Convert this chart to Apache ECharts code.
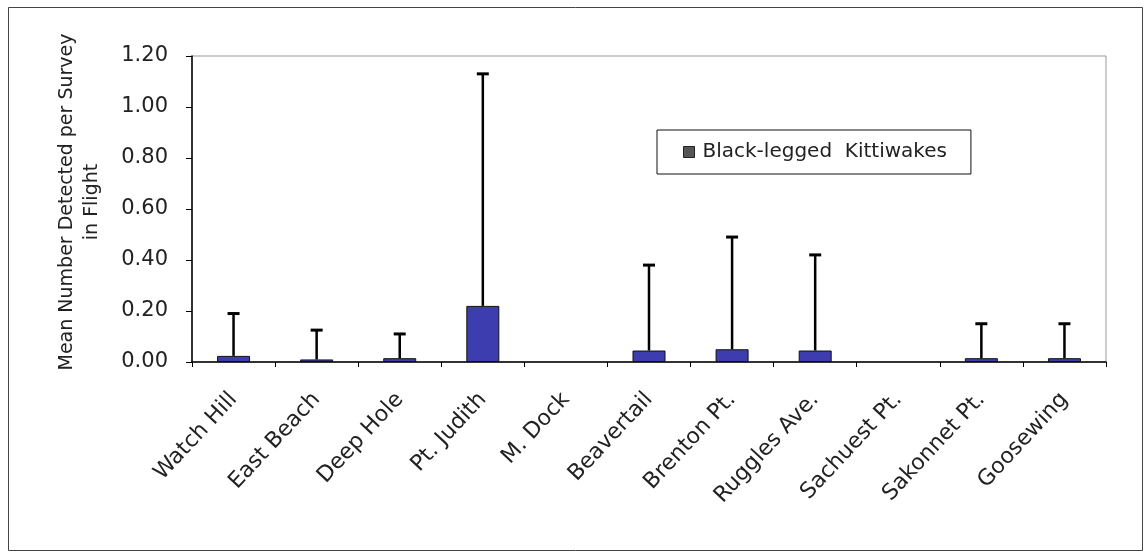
<!DOCTYPE html>
<html>
<head>
<meta charset="utf-8">
<script src="https://cdn.jsdelivr.net/npm/echarts@6/dist/echarts.min.js"></script>
<style>
html,body{margin:0;padding:0;background:#fff;}
#chart{width:1145px;height:551px;}
</style>
</head>
<body>
<div id="chart"></div>
<script>
const sites = ['Watch Hill','East Beach','Deep Hole','Pt. Judith','M. Dock','Beavertail','Brenton Pt.','Ruggles Ave.','Sachuest Pt.','Sakonnet Pt.','Goosewing'];
const means = [0.024, 0.01, 0.015, 0.22, 0, 0.045, 0.05, 0.045, 0, 0.015, 0.015];
const errorTops = [0.19, 0.125, 0.11, 1.13, 0, 0.38, 0.49, 0.42, 0, 0.15, 0.15];
const seriesName = 'Black-legged  Kittiwakes';
const yAxisTitle = 'Mean Number Detected per Survey\nin Flight';

const FONT = 'DejaVu Sans';
const chart = echarts.init(document.getElementById('chart'));
const errData = sites.map((s, i) => [i, means[i], errorTops[i]]);
const barData = means.map(v => v > 0 ? v : { value: v, itemStyle: { borderWidth: 0, opacity: 0 } });

chart.setOption({
  animation: false,
  backgroundColor: '#fff',
  graphic: [{
    type: 'rect', left: 6, top: 5, silent: true,
    shape: { width: 1134, height: 543 },
    style: { fill: 'none', stroke: '#444', lineWidth: 1 }
  }],
  grid: { left: 192, top: 56, right: 39, bottom: 189, show: true, borderColor: '#999', borderWidth: 1, backgroundColor: 'transparent' },
  legend: {
    left: 657, top: 130,
    data: [{ name: seriesName, itemStyle: { color: '#555', borderColor: '#222', borderWidth: 1 } }],
    icon: 'rect', itemWidth: 11, itemHeight: 11, itemGap: 0,
    padding: [12, 24, 12, 26],
    borderColor: '#111', borderWidth: 1, backgroundColor: '#fff',
    textStyle: { fontFamily: FONT, fontSize: 20, color: '#222', padding: [0,0,0,3] }
  },
  xAxis: {
    type: 'category', data: sites, boundaryGap: true,
    axisLine: { lineStyle: { color: '#000', width: 1.5 } },
    axisTick: { show: true, length: 5, alignWithLabel: false, lineStyle: { color: '#000' } },
    axisLabel: { rotate: 47, margin: 34, fontFamily: FONT, fontSize: 22, color: '#222', interval: 0 }
  },
  yAxis: {
    type: 'value', min: 0, max: 1.2, interval: 0.2,
    name: yAxisTitle, nameLocation: 'middle', nameRotate: 90, nameGap: 87,
    nameTextStyle: { fontFamily: FONT, fontSize: 19, color: '#222', lineHeight: 25, padding: [0, 0, 0, 14] },
    axisLine: { show: true, lineStyle: { color: '#000', width: 1.5 } },
    axisTick: { show: true, length: 6, lineStyle: { color: '#000' } },
    splitLine: { show: false },
    axisLabel: { margin: 24, fontFamily: FONT, fontSize: 21, color: '#222', formatter: v => v.toFixed(2) }
  },
  series: [{
    name: seriesName, type: 'bar', data: barData, barWidth: 33,
    itemStyle: { color: '#3d3daf', borderColor: '#111', borderWidth: 1 },
    z: 2
  }, {
    type: 'custom', name: 'err', data: errData, z: 3,
    encode: { x: 0, y: [1, 2] },
    renderItem: function (params, api) {
      const i = api.value(0), m = api.value(1), t = api.value(2);
      if (!(t > m)) return null;
      const p0 = api.coord([i, m]);
      const p1 = api.coord([i, t]);
      const hw = 6;
      const st = { stroke: '#000', lineWidth: 2.5 };
      return { type: 'group', children: [
        { type: 'line', shape: { x1: p0[0], y1: p0[1], x2: p1[0], y2: p1[1] }, style: st },
        { type: 'line', shape: { x1: p1[0] - hw, y1: p1[1], x2: p1[0] + hw, y2: p1[1] }, style: { stroke: '#000', lineWidth: 3 } }
      ]};
    }
  }]
});
</script>
</body>
</html>
